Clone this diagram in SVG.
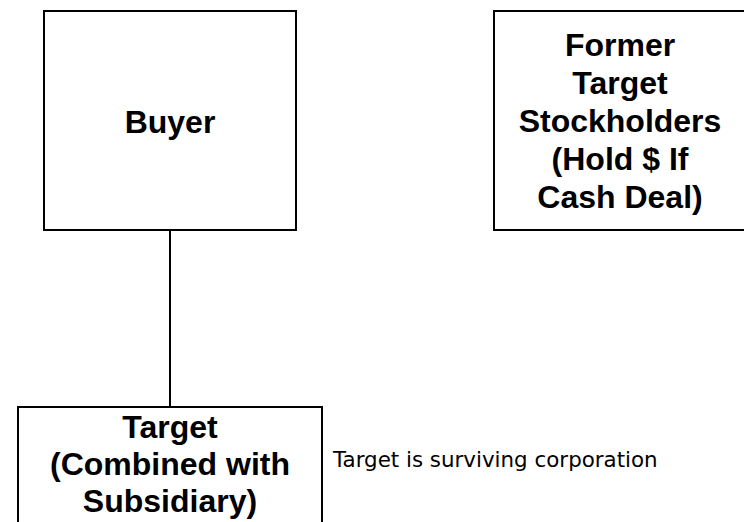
<svg xmlns="http://www.w3.org/2000/svg" width="744" height="522" viewBox="0 0 744 522">
  <style>
    .box { fill: #ffffff; stroke: #000000; stroke-width: 2; }
    .lbl { font-family: "Liberation Sans", Arial, sans-serif; font-weight: bold; font-size: 32px; fill: #000000; text-anchor: middle; }
    .note { font-family: "DejaVu Sans", Verdana, sans-serif; font-size: 21.4px; fill: #000000; }
    .conn { stroke: #000000; stroke-width: 2; fill: none; }
  </style>
  <rect x="0" y="0" width="744" height="522" fill="#ffffff"/>
  <g id="connectors">
    <line class="conn" x1="170" y1="230" x2="170" y2="407"/>
  </g>
  <g id="buyer">
    <rect class="box" x="44" y="11" width="252" height="219"/>
    <text class="lbl" x="170" y="133">Buyer</text>
  </g>
  <g id="former-target-stockholders">
    <rect class="box" x="494" y="11" width="253" height="219"/>
    <text class="lbl" x="620" y="56">Former</text>
    <text class="lbl" x="620" y="94">Target</text>
    <text class="lbl" x="620" y="132">Stockholders</text>
    <text class="lbl" x="620" y="170">(Hold $ If</text>
    <text class="lbl" x="620" y="208">Cash Deal)</text>
  </g>
  <g id="target">
    <rect class="box" x="18" y="407" width="304" height="140"/>
    <text class="lbl" x="170" y="438">Target</text>
    <text class="lbl" x="170" y="475">(Combined with</text>
    <text class="lbl" x="170" y="512">Subsidiary)</text>
  </g>
  <g id="note">
    <text class="note" x="333" y="467">Target is surviving corporation</text>
  </g>
</svg>
